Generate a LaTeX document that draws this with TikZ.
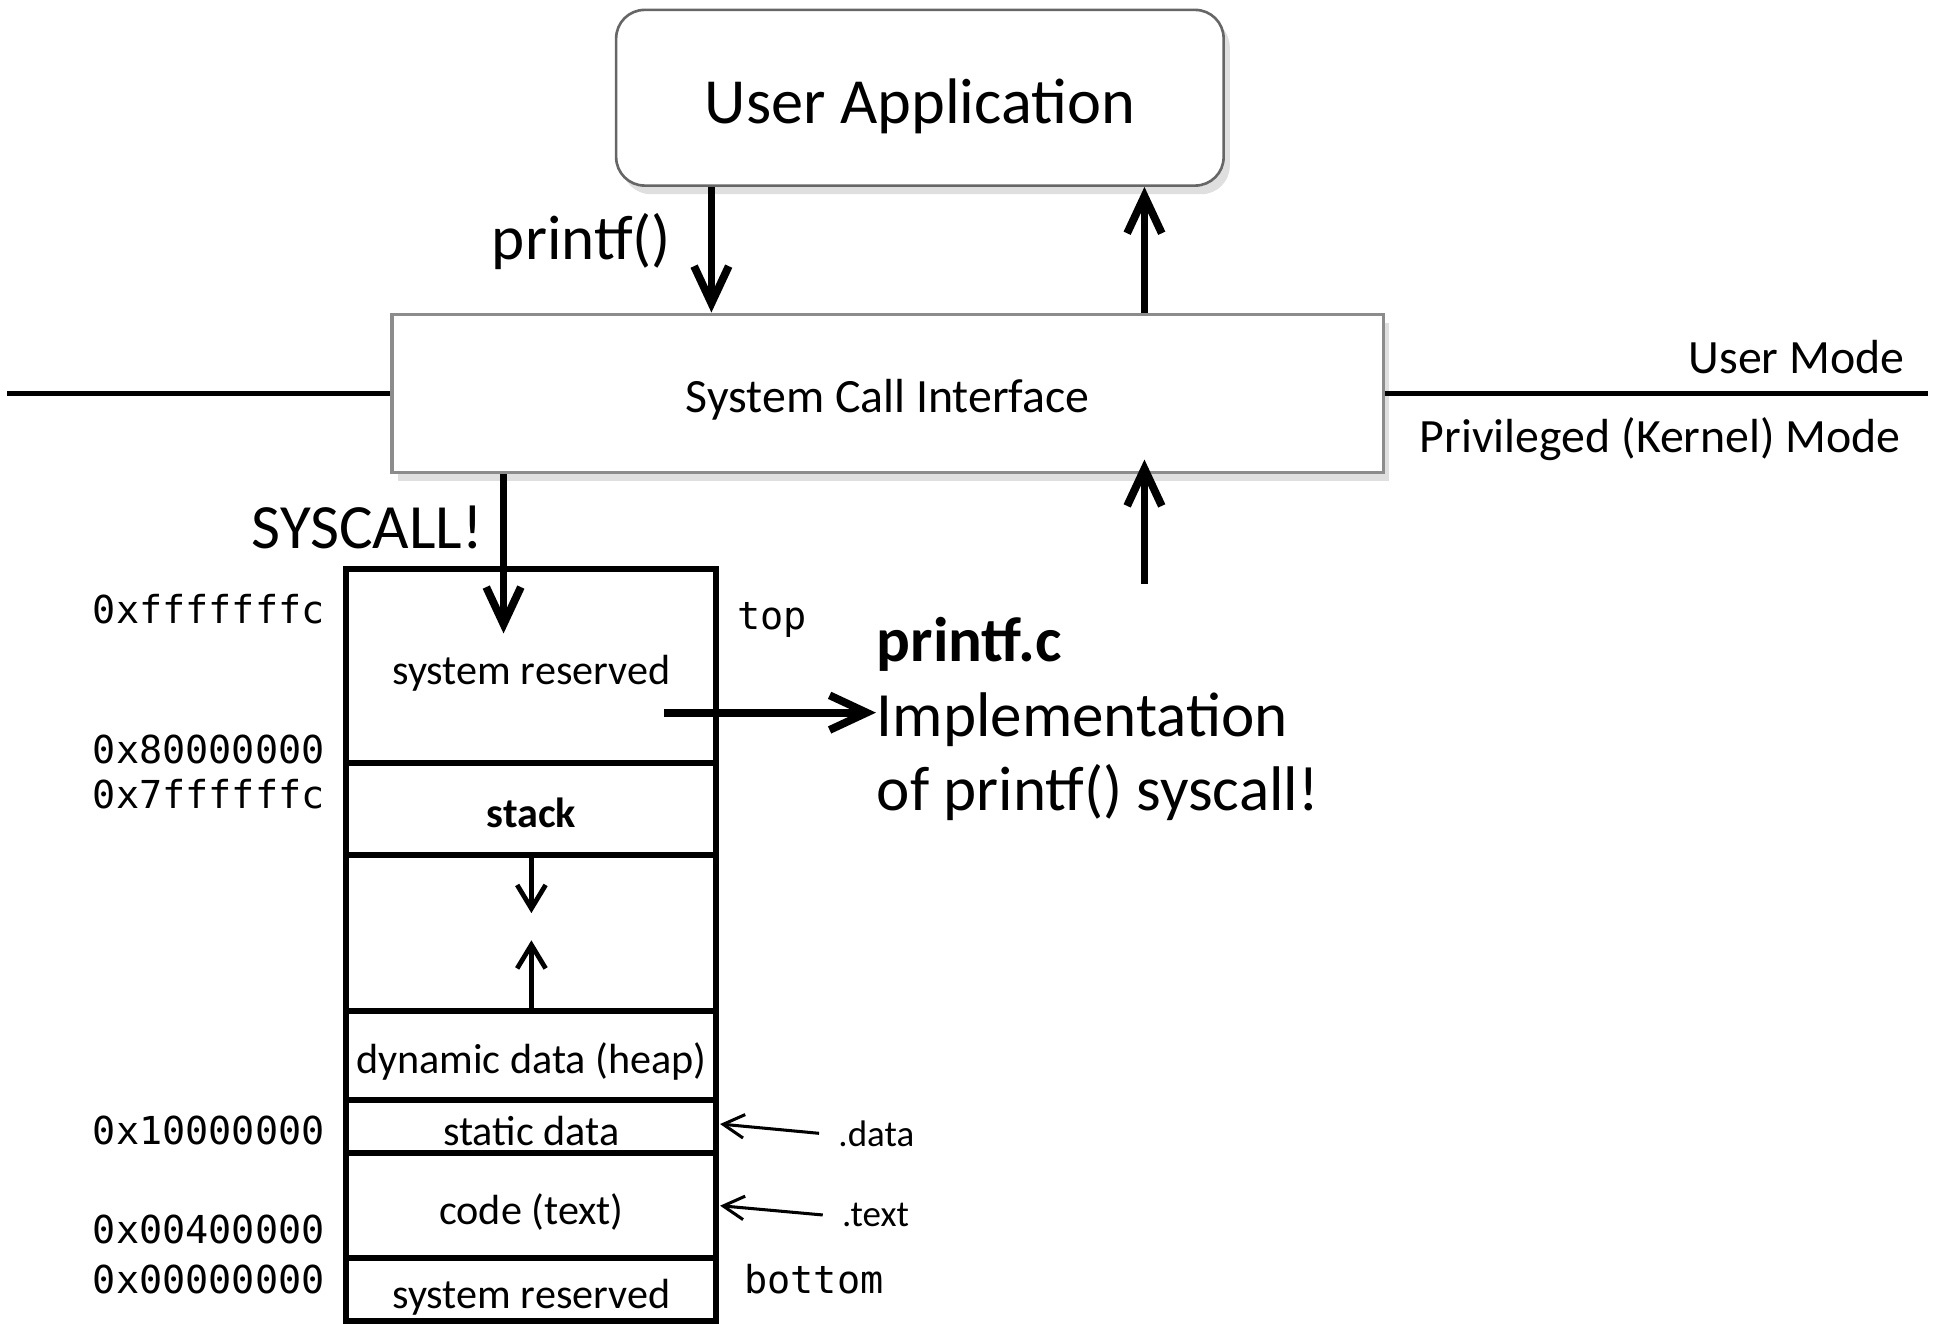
\documentclass[tikz,border=0pt]{standalone}
\usepackage{fontspec}
\setmainfont{Carlito}
\newfontfamily\addrfont{DejaVu Sans Mono}
\usetikzlibrary{arrows.meta,shadows}

\begin{document}
\begin{tikzpicture}[x=0.1mm,y=-0.1mm,
    bigarrow/.style={-{Straight Barb[length=3mm,width=2.8mm]},line width=1.8pt},
    midarrow/.style={-{Straight Barb[length=1.9mm,width=2.3mm]},line width=1.1pt},
    thinarrow/.style={-{Straight Barb[length=1.7mm,width=1.9mm]},line width=0.7pt},
    cell/.style={draw,line width=1.4pt,minimum width=29.9mm,inner sep=0pt,outer sep=0pt,anchor=north,
                 text height=3.5mm,text depth=0.5mm,font=\fontsize{9.7}{11}\selectfont},
    addr/.style={inner sep=0pt,font=\addrfont\fontsize{8.85}{10}\selectfont},
    big/.style={inner sep=0pt,font=\fontsize{14.5}{17}\selectfont},
    mode/.style={anchor=east,inner sep=0pt,font=\fontsize{11}{13}\selectfont},
    small/.style={anchor=west,inner sep=1.5mm,font=\fontsize{8.5}{10}\selectfont}]

\useasboundingbox (0,0) rectangle (1568,1070);

% top part
\node[draw=black!60,line width=0.6pt,fill=white,rounded corners=2.3mm,minimum width=49.1mm,minimum height=14.2mm,
      text height=5.5mm,text depth=1.3mm,
      drop shadow={shadow xshift=0.5mm,shadow yshift=-0.7mm,opacity=0.25},font=\fontsize{14.8}{17}\selectfont] (app) at (743.5,79) {User Application};
\node[draw=black!45,line width=0.8pt,fill=white,minimum width=80.1mm,minimum height=12.8mm,
      text height=4.1mm,text depth=1mm,
      drop shadow={shadow xshift=0.5mm,shadow yshift=-0.7mm,opacity=0.25},font=\fontsize{11}{13}\selectfont] (sci) at (717.5,318) {System Call Interface};

\coordinate (lineL) at (6,318);
\coordinate (lineR) at (1558,318);
\draw[line width=1.1pt] (lineL) -- (sci.west);
\draw[line width=1.1pt] (sci.east) -- (lineR);
\node[mode] (umode) at (1540,289) {User Mode};
\node[mode] (kmode) at (1537,355) {Privileged (Kernel) Mode};

\coordinate (callx) at (575,0);
\coordinate (retx) at (925,0);
\draw[bigarrow] (app.south -| callx) -- (sci.north -| callx);
\draw[bigarrow] (sci.north -| retx) -- (app.south -| retx);
\node[big,anchor=east] (printf) at (543,195) {printf()};

\coordinate (sysin) at (407,512);
\draw[bigarrow] (sci.south -| sysin) -- (sysin);
\node[big,anchor=east] (syscall) at (391,426) {SYSCALL!};

\coordinate (retfrom) at (925,472);
\draw[bigarrow] (retfrom) -- ([yshift=1.2mm]sci.south -| retfrom);

% memory layout
\node[cell,minimum height=15.7mm] (sr1) at (429.5,460) {system reserved};
\node[cell,minimum height=7.4mm] (stack) at (sr1.south) {\textbf{stack}};
\node[cell,minimum height=12.6mm] (gap) at (stack.south) {};
\node[cell,minimum height=7.2mm] (heap) at (gap.south) {dynamic data (heap)};
\node[cell,minimum height=4.3mm] (static) at (heap.south) {static data};
\node[cell,minimum height=8.5mm] (code) at (static.south) {code (text)};
\node[cell,minimum height=5.1mm] (sr0) at (code.south) {system reserved};

\draw[midarrow] (gap.north) -- ++(0,47);
\draw[midarrow] (gap.south) -- ++(0,-57);

\node[addr,anchor=east] (a1) at (263,492) {0xfffffffc};
\node[addr,anchor=east] (a2) at (263,606) {0x80000000};
\node[addr,anchor=east] (a3) at (263,642) {0x7ffffffc};
\node[addr,anchor=east] (a4) at (263,914) {0x10000000};
\node[addr,anchor=east] (a5) at (263,994) {0x00400000};
\node[addr,anchor=east] (a6) at (263,1034) {0x00000000};
\node[addr,anchor=west] (top) at (595,501) {top};
\node[addr,anchor=west] (bottom) at (601,1034) {bottom};

\node[small] (dlab) at (662,916) {.data};
\node[small] (tlab) at (665,982) {.text};
\draw[thinarrow] (dlab.west) -- ([shift={(3,-2)}]static.east);
\draw[thinarrow] (tlab.west) -- ([shift={(3,0)}]code.east);

% kernel side
\node[big,anchor=base west] (pfc) at (708,535) {\textbf{printf.c}};
\node[big,anchor=base west] (impl) at (708,595) {Implementation};
\node[big,anchor=base west] (ofpf) at (708,655) {of printf() syscall!};
\coordinate (implfrom) at (537,576);
\draw[bigarrow] (implfrom) -- (implfrom -| impl.west);

\end{tikzpicture}
\end{document}
